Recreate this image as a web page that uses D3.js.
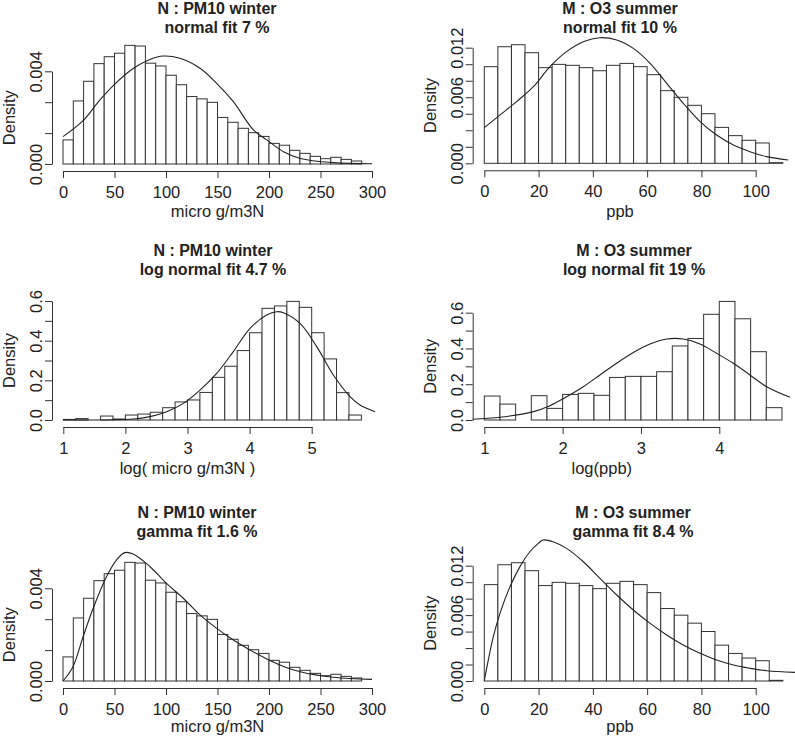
<!DOCTYPE html>
<html>
<head>
<meta charset="utf-8">
<script src="https://cdn.jsdelivr.net/npm/d3@7"></script>
<style>
  body { margin: 0; background: #fff; }
  svg text { font-family: "Liberation Sans", Arial, sans-serif; fill: #222; }
</style>
</head>
<body>
<svg id="chart" width="795" height="737"></svg>
<script>
// PM10 winter histogram (bins of 10 from 0)
const pm10Density = [0.00104, 0.00272, 0.00357, 0.00433, 0.00463, 0.00478, 0.00512, 0.00509,
  0.00435, 0.00423, 0.00383, 0.00342, 0.00291, 0.00281, 0.00266, 0.00201, 0.0018, 0.00154,
  0.00135, 0.00119, 0.00089, 0.00081, 0.00059, 0.00046, 0.00033, 0.00023, 0.00029, 0.0002, 0.00013]
// O3 summer histogram (bins of 5 from 0)
const o3Density = [0.01003, 0.0121, 0.01231, 0.01148, 0.00993, 0.01027, 0.01017, 0.00993,
  0.00961, 0.01017, 0.01037, 0.01003, 0.0092, 0.00754, 0.00685, 0.00602, 0.00515, 0.00373,
  0.00287, 0.00239, 0.00211, 0.00007]
// log PM10 histogram (bins of 0.2 from 1)
const logPm10Density = [0.003, 0.007, 0, 0.02, 0.005, 0.025, 0.03, 0.039, 0.062, 0.091, 0.101,
  0.139, 0.215, 0.271, 0.35, 0.44, 0.563, 0.575, 0.598, 0.568, 0.44, 0.308, 0.138, 0.025]
// log O3 histogram (bins of 0.2 from 1)
const logO3Density = [0.134, 0.089, 0, 0.136, 0.065, 0.143, 0.149, 0.138, 0.238, 0.244, 0.244,
  0.27, 0.414, 0.456, 0.591, 0.663, 0.566, 0.382, 0.069]

// fitted curves, [x, density]
const pm10NormalFit = [[0,0.00118],[19.5,0.00187],[35.7,0.00276],[50.3,0.00345],[68.1,0.00412],
  [84.3,0.00451],[97.3,0.00466],[113.5,0.00456],[133,0.00413],[149.2,0.00348],[165.4,0.00269],
  [184.9,0.00147],[197.9,0.00104],[214.1,0.00053],[230.3,0.00024],[262.7,0.00006],[300,0.00001]]
const o3NormalFit = [[0,0.0037],[5.8,0.00502],[11.9,0.0064],[18.1,0.00795],[24.2,0.01003],
  [30.3,0.01159],[36.5,0.01262],[42.6,0.01304],[48.8,0.0128],[54.9,0.01193],[61.1,0.01038],
  [67.2,0.0083],[73.3,0.00623],[79.5,0.00433],[85.6,0.00294],[91.8,0.0019],[97.9,0.00121],
  [104,0.00069],[112,0.00035]]
const logPm10Fit = [[1,0],[2.128,0.005],[2.396,0.017],[2.664,0.042],[2.933,0.084],[3.201,0.151],
  [3.47,0.235],[3.738,0.345],[4.007,0.462],[4.275,0.529],[4.436,0.546],[4.544,0.541],[4.812,0.487],
  [5.081,0.37],[5.349,0.227],[5.617,0.118],[5.778,0.076],[6.02,0.042]]
const logO3Fit = [[0.851,0.004],[1.2,0.015],[1.626,0.047],[1.838,0.08],[2.051,0.13],[2.264,0.186],
  [2.477,0.252],[2.689,0.317],[2.902,0.377],[3.115,0.425],[3.328,0.453],[3.54,0.453],[3.753,0.425],
  [3.966,0.373],[4.179,0.317],[4.391,0.252],[4.604,0.186],[4.902,0.127]]
const pm10GammaFit = [[0,0],[9.7,0.00062],[19.5,0.00191],[29.2,0.00313],[42.2,0.0045],[51.9,0.00522],
  [60,0.00554],[68.1,0.00548],[84.3,0.00494],[100.5,0.00421],[116.8,0.00357],[133,0.00285],
  [149.2,0.00227],[165.4,0.00177],[181.6,0.00134],[197.9,0.00095],[214.1,0.00063],[230.3,0.0004],
  [262.7,0.00016],[300,0.00007]]
const o3GammaFit = [[0,0],[1.47,0.00218],[3.32,0.00461],[5.77,0.00704],[9.46,0.00981],[13.1,0.01188],
  [16.8,0.01345],[19.9,0.01432],[21.6,0.01467],[25.3,0.01449],[30.3,0.0138],[36.5,0.01241],
  [42.6,0.01068],[48.8,0.00895],[54.9,0.00739],[61.1,0.006],[67.2,0.00479],[73.3,0.00374],
  [79.5,0.00288],[85.6,0.00218],[91.8,0.00166],[97.9,0.00132],[104,0.00107],[114.5,0.0009]]

// tick labels
const pm10XTicks = [0, 50, 100, 150, 200, 250, 300]
const o3XTicks = [0, 20, 40, 60, 80, 100]
const logPm10XTicks = [1, 2, 3, 4, 5]
const logO3XTicks = [1, 2, 3, 4]
const smallYLabels = {0: "0.000", 3: "0.004"}
const o3YLabels = {0: "0.000", 4: "0.006", 7: "0.012"}
const logYLabels = {0: "0.0", 2: "0.2", 4: "0.4", 6: "0.6"}

const svg = d3.select("#chart")
const fontSize = 16.5

function drawPanel(p) {
    const g = svg.append("g")
    const x = d3.scaleLinear().domain(p.xDomain).range(p.xRange)
    const y = d3.scaleLinear().domain([0, p.yTop]).range([p.y0, p.y1])

    g.selectAll("rect.bar")
        .data(p.bars)
        .join("rect")
        .attr("x", (d, i) => x(p.binStart + i * p.binWidth))
        .attr("width", (d, i) => x(p.binStart + (i + 1) * p.binWidth) - x(p.binStart + i * p.binWidth))
        .attr("y", d => y(d))
        .attr("height", d => p.y0 - y(d))
        .attr("fill", "#fff")
        .attr("stroke", "#333")
        .attr("stroke-width", 1)

    g.append("path")
        .datum(p.fit)
        .attr("d", d3.line().x(d => x(d[0])).y(d => y(d[1])).curve(d3.curveCatmullRom))
        .attr("fill", "none")
        .attr("stroke", "#222")
        .attr("stroke-width", 1.1)

    // x axis
    const xAxis = g.append("g")
        .attr("transform", `translate(0,${p.y0 + 7})`)
        .call(d3.axisBottom(x).tickValues(p.xTicks).tickFormat(d3.format("d")).tickSize(7).tickSizeOuter(0))
    xAxis.selectAll("text").attr("font-size", fontSize).attr("dy", "1.0em")

    // y axis: evenly spaced ticks, labels only where the picture has them
    const yTicks = d3.range(p.yCount).map(i => i * p.yTop / (p.yCount - 1))
    const yAxis = g.append("g")
        .attr("transform", `translate(${p.yAxisX},0)`)
        .call(d3.axisLeft(y).tickValues(yTicks).tickSize(7).tickSizeOuter(0)
            .tickFormat((d, i) => p.yLabels[i] || ""))
    yAxis.selectAll("text")
        .attr("font-size", fontSize)
        .attr("transform", "rotate(-90)")
        .attr("text-anchor", "middle")
        .attr("x", 0)
        .attr("y", -10)
        .attr("dy", null)
    g.selectAll(".domain, .tick line").attr("stroke", "#333")

    g.append("text")
        .attr("transform", `translate(${p.yAxisX - 37},${(p.y0 + p.y1) / 2}) rotate(-90)`)
        .attr("text-anchor", "middle")
        .attr("font-size", fontSize)
        .text("Density")

    g.append("text")
        .attr("x", (p.xRange[0] + p.xRange[1]) / 2)
        .attr("y", p.xLabelY)
        .attr("text-anchor", "middle")
        .attr("font-size", fontSize)
        .text(p.xLabel)

    p.title.forEach((t, i) => {
        g.append("text")
            .attr("x", p.titleX)
            .attr("y", p.titleY + i * 19)
            .attr("text-anchor", "middle")
            .attr("font-size", 16)
            .attr("font-weight", "bold")
            .text(t)
    })
}

const panels = [
  {title: ["N : PM10 winter", "normal fit 7 %"], titleX: 217, titleY: 14,
   bars: pm10Density, binStart: 0, binWidth: 10, fit: pm10NormalFit,
   xDomain: [0, 300], xRange: [63, 372], xTicks: pm10XTicks, xLabel: "micro g/m3N", xLabelY: 217,
   yTop: 0.004, yCount: 4, yLabels: smallYLabels, y0: 164, y1: 71.3, yAxisX: 52},
  {title: ["M : O3 summer", "normal fit 10 %"], titleX: 620, titleY: 14,
   bars: o3Density, binStart: 0, binWidth: 5, fit: o3NormalFit,
   xDomain: [0, 100], xRange: [484.3, 755.7], xTicks: o3XTicks, xLabel: "ppb", xLabelY: 217,
   yTop: 0.012, yCount: 8, yLabels: o3YLabels, y0: 163.3, y1: 47.7, yAxisX: 472.7},
  {title: ["N : PM10 winter", "log normal fit 4.7 %"], titleX: 213, titleY: 256,
   bars: logPm10Density, binStart: 1, binWidth: 0.2, fit: logPm10Fit,
   xDomain: [1, 5], xRange: [63.3, 311.7], xTicks: logPm10XTicks, xLabel: "log( micro g/m3N )", xLabelY: 474,
   yTop: 0.6, yCount: 7, yLabels: logYLabels, y0: 420, y1: 301, yAxisX: 52},
  {title: ["M : O3 summer", "log normal fit 19 %"], titleX: 634, titleY: 256,
   bars: logO3Density, binStart: 1, binWidth: 0.2, fit: logO3Fit,
   xDomain: [1, 4], xRange: [484.3, 719.3], xTicks: logO3XTicks, xLabel: "log(ppb)", xLabelY: 474,
   yTop: 0.6, yCount: 7, yLabels: logYLabels, y0: 420, y1: 312.7, yAxisX: 472.7},
  {title: ["N : PM10 winter", "gamma fit 1.6 %"], titleX: 197, titleY: 518,
   bars: pm10Density, binStart: 0, binWidth: 10, fit: pm10GammaFit,
   xDomain: [0, 300], xRange: [63, 372], xTicks: pm10XTicks, xLabel: "micro g/m3N", xLabelY: 732,
   yTop: 0.004, yCount: 4, yLabels: smallYLabels, y0: 681, y1: 588.3, yAxisX: 52},
  {title: ["M : O3 summer", "gamma fit 8.4 %"], titleX: 633, titleY: 518,
   bars: o3Density, binStart: 0, binWidth: 5, fit: o3GammaFit,
   xDomain: [0, 100], xRange: [484.3, 755.7], xTicks: o3XTicks, xLabel: "ppb", xLabelY: 732,
   yTop: 0.012, yCount: 8, yLabels: o3YLabels, y0: 681, y1: 565.7, yAxisX: 472.7}
]

panels.forEach(drawPanel)
</script>
</body>
</html>
